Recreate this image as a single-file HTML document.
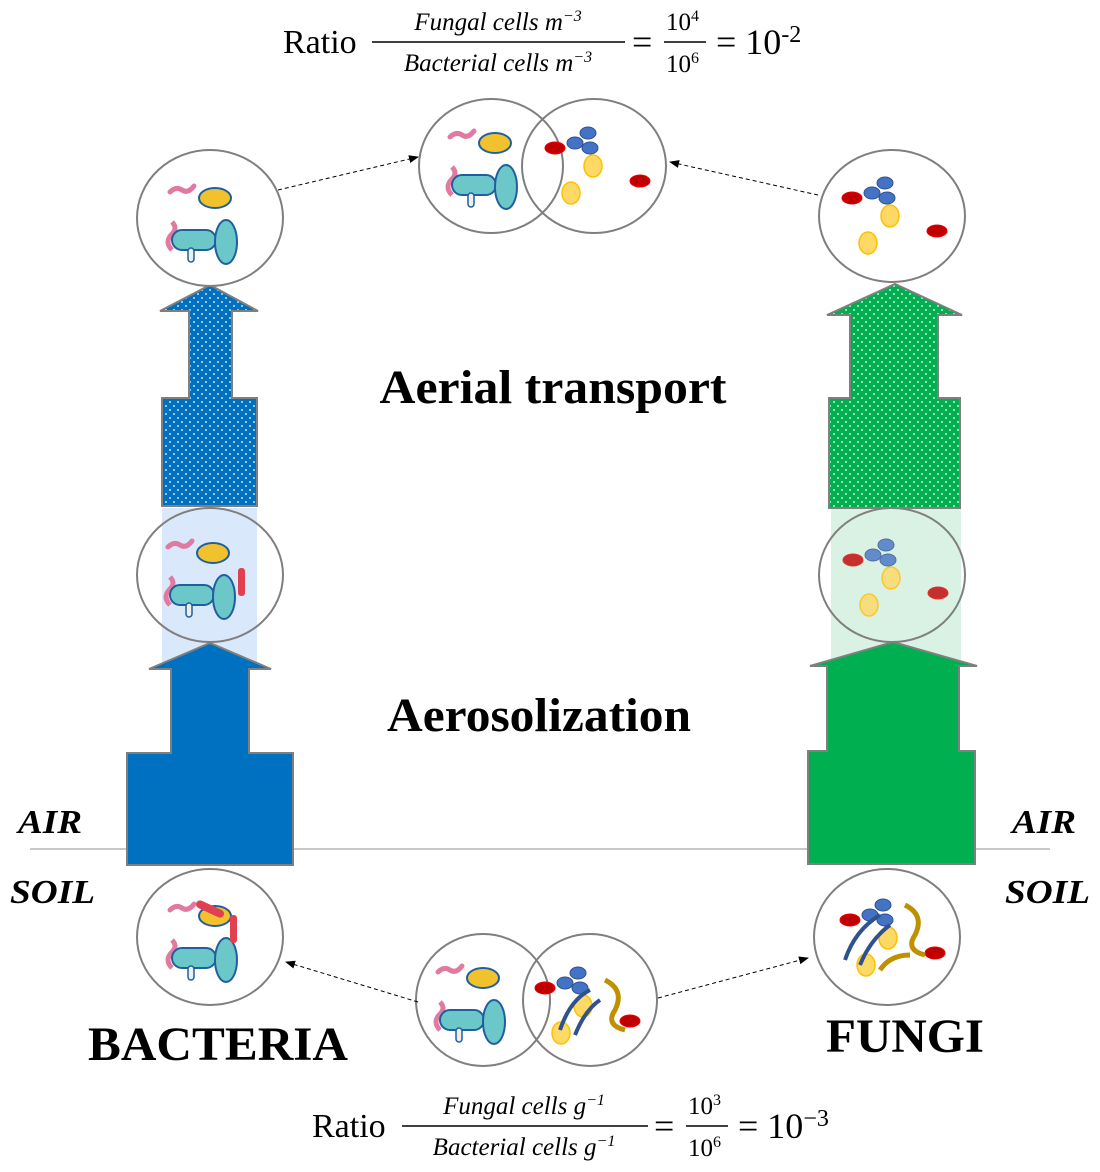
<!DOCTYPE html>
<html><head><meta charset="utf-8"><style>
html,body{margin:0;padding:0;background:#fff}
svg{display:block}
.t{font-family:"Liberation Serif",serif}
</style></head><body>
<svg width="1100" height="1172" viewBox="0 0 1100 1172" xmlns="http://www.w3.org/2000/svg">
<defs>
<pattern id="dotb" width="8" height="8" patternUnits="userSpaceOnUse"><rect width="8" height="8" fill="#0070c0"/><circle cx="2" cy="2" r="0.9" fill="#fff"/><circle cx="6" cy="6" r="0.9" fill="#fff"/></pattern>
<pattern id="dotg" width="8" height="8" patternUnits="userSpaceOnUse"><rect width="8" height="8" fill="#00b050"/><circle cx="2" cy="2" r="0.9" fill="#fff"/><circle cx="6" cy="6" r="0.9" fill="#fff"/></pattern>
<marker id="ah" markerWidth="10" markerHeight="8" refX="9" refY="4" orient="auto" markerUnits="userSpaceOnUse"><path d="M0,0 L10,4 L0,8 z" fill="#000"/></marker>
<g id="bac">
 <path d="M-40,-28 q6,-6 12,-2 q6,4 12,-4" stroke="#e07aa0" stroke-width="5" fill="none" stroke-linecap="round"/>
 <ellipse cx="5" cy="-22" rx="16" ry="10" fill="#f2c12e" stroke="#1f5fa0" stroke-width="2"/>
 <path d="M-38,30 q-8,-8 0,-16 q6,-6 0,-12" stroke="#e07aa0" stroke-width="5" fill="none"/>
 <rect x="-38" y="10" width="44" height="20" rx="10" fill="#6cc7c8" stroke="#1f5fa0" stroke-width="2"/>
 <rect x="-22" y="28" width="6" height="14" rx="3" fill="#eee" stroke="#1f5fa0" stroke-width="1.5"/>
 <ellipse cx="16" cy="22" rx="11" ry="22" fill="#6cc7c8" stroke="#1f5fa0" stroke-width="2"/>
</g>
<g id="fun">
 <ellipse cx="-40" cy="-20" rx="10" ry="6" fill="#c00000" stroke="#e00" stroke-width="1"/>
 <ellipse cx="-7" cy="-35" rx="8" ry="6" fill="#4472c4" stroke="#2f528f"/>
 <ellipse cx="-20" cy="-25" rx="8" ry="6" fill="#4472c4" stroke="#2f528f"/>
 <ellipse cx="-5" cy="-20" rx="8" ry="6" fill="#4472c4" stroke="#2f528f"/>
 <ellipse cx="-2" cy="-2" rx="9" ry="11" fill="#ffd966" stroke="#ffc000" stroke-width="1.5"/>
 <ellipse cx="-24" cy="25" rx="9" ry="11" fill="#ffd966" stroke="#ffc000" stroke-width="1.5"/>
 <ellipse cx="45" cy="13" rx="10" ry="6" fill="#c00000" stroke="#e00"/>
</g>
</defs>

<!-- top formula -->
<text class="t" x="283" y="53" font-size="34">Ratio</text>
<text class="t" x="498" y="30" font-size="25" font-style="italic" text-anchor="middle">Fungal cells m<tspan dy="-9" font-size="16">−3</tspan></text>
<line x1="372" y1="42" x2="625" y2="42" stroke="#000" stroke-width="1.5"/>
<text class="t" x="498" y="71" font-size="25" font-style="italic" text-anchor="middle">Bacterial cells m<tspan dy="-9" font-size="16">−3</tspan></text>
<text class="t" x="632" y="54" font-size="36">=</text>
<text class="t" x="666" y="30" font-size="25">10<tspan dy="-9" font-size="16">4</tspan></text>
<line x1="664" y1="42" x2="706" y2="42" stroke="#000" stroke-width="1.5"/>
<text class="t" x="666" y="72" font-size="25">10<tspan dy="-9" font-size="16">6</tspan></text>
<text class="t" x="716" y="54" font-size="36">= 10<tspan dy="-12" font-size="24">-2</tspan></text>

<!-- ground line -->
<line x1="30" y1="849" x2="1050" y2="849" stroke="#a6a6a6" stroke-width="1.3"/>

<!-- light backgrounds -->
<rect x="162" y="508" width="95" height="158" fill="#dae8fc"/>
<rect x="831" y="508" width="130" height="158" fill="#d9f2e3"/>

<!-- blue arrows -->
<path d="M127,753 L171,753 L171,669 L149,669 L210,643 L271,669 L249,669 L249,753 L293,753 L293,865 L127,865 Z" fill="#0070c0" stroke="#7f7f7f" stroke-width="2"/>
<path d="M162,398 L189,398 L189,311 L160,311 L210,285 L258,311 L232,311 L232,398 L257,398 L257,506 L162,506 Z" fill="url(#dotb)" stroke="#7f7f7f" stroke-width="2"/>
<!-- green arrows -->
<path d="M808,751 L827,751 L827,666 L810,666 L893,642 L977,666 L959,666 L959,751 L975,751 L975,864 L808,864 Z" fill="#00b050" stroke="#7f7f7f" stroke-width="2"/>
<path d="M829,398 L850,398 L850,315 L827,315 L895,284 L962,315 L938,315 L938,398 L960,398 L960,508 L829,508 Z" fill="url(#dotg)" stroke="#7f7f7f" stroke-width="2"/>

<!-- circles -->
<g fill="none" stroke="#7f7f7f" stroke-width="2">
<ellipse cx="210" cy="218" rx="73" ry="68" fill="#fff"/>
<ellipse cx="491" cy="166" rx="72" ry="67"/>
<ellipse cx="594" cy="166" rx="72" ry="67"/>
<ellipse cx="892" cy="216" rx="73" ry="66" fill="#fff"/>
<ellipse cx="210" cy="575" rx="73" ry="67"/>
<ellipse cx="892" cy="575" rx="73" ry="67"/>
<ellipse cx="210" cy="937" rx="73" ry="68"/>
<ellipse cx="483" cy="1000" rx="67" ry="66"/>
<ellipse cx="590" cy="1000" rx="67" ry="66"/>
<ellipse cx="887" cy="937" rx="73" ry="68"/>
</g>

<!-- contents -->
<use href="#bac" x="210" y="220"/>
<use href="#bac" x="490" y="165"/>
<use href="#fun" x="595" y="168"/>
<use href="#fun" x="892" y="218"/>
<use href="#bac" x="208" y="575"/>
<rect x="238" y="568" width="7" height="28" rx="3" fill="#e04050"/>
<use href="#fun" x="893" y="580" opacity="0.8"/>
<use href="#bac" x="210" y="938"/>
<rect x="195" y="905" width="30" height="8" rx="4" fill="#e04050" transform="rotate(25 210 909)"/>
<rect x="230" y="915" width="7" height="28" rx="3" fill="#e04050"/>
<use href="#bac" x="478" y="1000"/>
<use href="#fun" x="585" y="1008"/>
<path d="M560,1030 q10,-30 30,-40 M575,1035 q10,-25 25,-35" stroke="#2f528f" stroke-width="4" fill="none"/>
<path d="M605,980 q20,10 10,30 q-10,15 10,20" stroke="#bf9000" stroke-width="5" fill="none"/>
<use href="#fun" x="890" y="940"/>
<path d="M845,960 q10,-30 35,-45 M860,965 q10,-25 30,-40" stroke="#2f528f" stroke-width="4" fill="none"/>
<path d="M905,905 q20,10 10,30 q-10,15 10,20 M880,970 q10,-15 30,-15" stroke="#bf9000" stroke-width="5" fill="none"/>

<!-- dashed connectors -->
<g stroke="#000" stroke-width="1" stroke-dasharray="4,3" fill="none" marker-end="url(#ah)">
<line x1="278" y1="190" x2="418" y2="157"/>
<line x1="818" y1="195" x2="670" y2="162"/>
<line x1="418" y1="1002" x2="286" y2="962"/>
<line x1="658" y1="998" x2="808" y2="958"/>
</g>

<!-- labels -->
<text class="t" x="553" y="403" font-size="48" font-weight="bold" text-anchor="middle" textLength="347" lengthAdjust="spacingAndGlyphs">Aerial transport</text>
<text class="t" x="539" y="731" font-size="48" font-weight="bold" text-anchor="middle" textLength="304" lengthAdjust="spacingAndGlyphs">Aerosolization</text>
<text class="t" x="218" y="1060" font-size="48" font-weight="bold" text-anchor="middle" textLength="260" lengthAdjust="spacingAndGlyphs">BACTERIA</text>
<text class="t" x="905" y="1052" font-size="48" font-weight="bold" text-anchor="middle" textLength="158" lengthAdjust="spacingAndGlyphs">FUNGI</text>
<text class="t" x="18" y="833" font-size="34" font-weight="bold" font-style="italic" textLength="64" lengthAdjust="spacingAndGlyphs">AIR</text>
<text class="t" x="10" y="903" font-size="34" font-weight="bold" font-style="italic" textLength="85" lengthAdjust="spacingAndGlyphs">SOIL</text>
<text class="t" x="1012" y="833" font-size="34" font-weight="bold" font-style="italic" textLength="64" lengthAdjust="spacingAndGlyphs">AIR</text>
<text class="t" x="1005" y="903" font-size="34" font-weight="bold" font-style="italic" textLength="85" lengthAdjust="spacingAndGlyphs">SOIL</text>

<!-- bottom formula -->
<text class="t" x="312" y="1137" font-size="34">Ratio</text>
<text class="t" x="524" y="1114" font-size="25" font-style="italic" text-anchor="middle">Fungal cells g<tspan dy="-9" font-size="16">−1</tspan></text>
<line x1="402" y1="1126" x2="648" y2="1126" stroke="#000" stroke-width="1.5"/>
<text class="t" x="524" y="1155" font-size="25" font-style="italic" text-anchor="middle">Bacterial cells g<tspan dy="-9" font-size="16">−1</tspan></text>
<text class="t" x="654" y="1138" font-size="36">=</text>
<text class="t" x="688" y="1114" font-size="25">10<tspan dy="-9" font-size="16">3</tspan></text>
<line x1="686" y1="1126" x2="728" y2="1126" stroke="#000" stroke-width="1.5"/>
<text class="t" x="688" y="1156" font-size="25">10<tspan dy="-9" font-size="16">6</tspan></text>
<text class="t" x="738" y="1138" font-size="36">= 10<tspan dy="-12" font-size="24">−3</tspan></text>
</svg>
</body></html>
